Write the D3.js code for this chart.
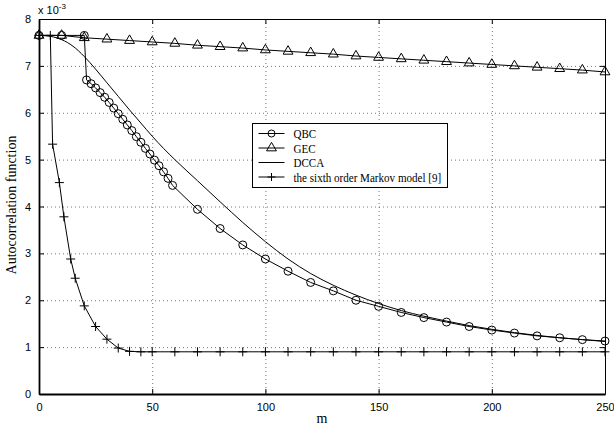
<!DOCTYPE html>
<html>
<head>
<meta charset="utf-8">
<script src="https://cdn.jsdelivr.net/npm/d3@7"></script>
<style>
  body { margin: 0; background: #fff; }
</style>
</head>
<body>
<svg id="chart" width="614" height="429"></svg>
<script>
// values are in units of 10^-3
const xTicks = [0, 50, 100, 150, 200, 250];
const yTicks = [0, 1, 2, 3, 4, 5, 6, 7, 8];

const qbcX = [0, 10, 20, 21, 23, 25, 27, 29, 31, 33, 35, 37, 39, 41, 43, 45, 47, 49, 51, 53, 55, 57, 59,
  70, 80, 90, 100, 110, 120, 130, 140, 150, 160, 170, 180, 190, 200, 210, 220, 230, 240, 250];
const qbcY = [7.65, 7.65, 7.65, 6.70, 6.62, 6.53, 6.43, 6.33, 6.22, 6.10, 5.98, 5.86, 5.74, 5.62, 5.49, 5.37, 5.24, 5.12, 4.99, 4.87, 4.74, 4.60, 4.45,
  3.94, 3.53, 3.18, 2.88, 2.62, 2.38, 2.20, 2.00, 1.87, 1.74, 1.63, 1.535, 1.44, 1.365, 1.30, 1.24, 1.20, 1.16, 1.13];

const gecX = [0, 10, 20, 30, 40, 50, 60, 70, 80, 90, 100, 110, 120, 130, 140, 150, 160, 170, 180, 190, 200, 210, 220, 230, 240, 250];
const gecY = [7.65, 7.65, 7.60, 7.57, 7.54, 7.51, 7.48, 7.44, 7.41, 7.38, 7.34, 7.31, 7.28, 7.25, 7.21, 7.18, 7.15, 7.12, 7.09, 7.06, 7.03, 7.00, 6.97, 6.94, 6.91, 6.87];

const dccaX = [0, 5, 10, 15, 20, 25, 30, 35, 40, 45, 50, 55, 60, 70, 80, 90, 100, 110, 120, 130, 140, 150, 160, 170, 180, 190, 200, 210, 220, 230, 240, 250];
const dccaY = [7.65, 7.63, 7.56, 7.42, 7.20, 6.93, 6.64, 6.35, 6.06, 5.78, 5.50, 5.24, 5.00, 4.55, 4.10, 3.66, 3.25, 2.88, 2.57, 2.32, 2.11, 1.93, 1.78, 1.66, 1.555, 1.46, 1.38, 1.31, 1.25, 1.20, 1.16, 1.12];

const markovX = [0, 5, 6, 9, 11, 14, 16, 20, 25, 30, 35, 40, 45, 50, 60, 70, 80, 90, 100, 110, 120, 130, 140, 150, 160, 170, 180, 190, 200, 210, 220, 230, 240, 250];
const markovY = [7.65, 7.65, 5.33, 4.51, 3.78, 2.88, 2.47, 1.88, 1.44, 1.17, 0.98, 0.91, 0.90, 0.90, 0.90, 0.90, 0.90, 0.90, 0.90, 0.90, 0.90, 0.90, 0.90, 0.90, 0.90, 0.90, 0.90, 0.90, 0.90, 0.90, 0.90, 0.90, 0.90, 0.90];

const legendNames = ['QBC', 'GEC', 'DCCA', 'the sixth order Markov model [9]'];

const plotLeft = 39, plotRight = 605, plotTop = 19, plotBottom = 394;
const svg = d3.select('#chart');

const x = d3.scaleLinear().domain([0, 250]).range([plotLeft, plotRight]);
const y = d3.scaleLinear().domain([0, 8]).range([plotBottom, plotTop]);

// dotted grid
const grid = svg.append('g').attr('stroke', '#777').attr('stroke-dasharray', '1,3').attr('stroke-width', 1);
grid.selectAll('line.gx').data(xTicks.slice(1, -1)).enter().append('line')
  .attr('x1', d => x(d) + 0.5).attr('x2', d => x(d) + 0.5)
  .attr('y1', plotTop).attr('y2', plotBottom);
grid.selectAll('line.gy').data(yTicks.slice(1, -1)).enter().append('line')
  .attr('x1', plotLeft).attr('x2', plotRight)
  .attr('y1', d => y(d) + 0.5).attr('y2', d => y(d) + 0.5);

// axes, ticks inside
const tickFont = g => {
  g.selectAll('.tick text').attr('font-family', 'Liberation Sans, Arial, sans-serif').attr('font-size', 11).attr('fill', '#000');
};
svg.append('g')
  .attr('transform', 'translate(0,' + plotBottom + ')')
  .call(d3.axisBottom(x).tickValues(xTicks).tickSizeInner(-5).tickSizeOuter(0).tickPadding(9))
  .call(g => g.select('.domain').attr('stroke-width', 1.8))
  .call(tickFont);
svg.append('g')
  .attr('transform', 'translate(' + plotLeft + ',0)')
  .call(d3.axisLeft(y).tickValues(yTicks).tickSizeInner(-5).tickSizeOuter(0).tickPadding(8))
  .call(g => g.select('.domain').attr('stroke-width', 1.8))
  .call(tickFont);
svg.append('g')
  .attr('transform', 'translate(0,' + plotTop + ')')
  .call(d3.axisTop(x).tickValues(xTicks).tickSizeInner(-5).tickSizeOuter(0).tickFormat(''));
svg.append('g')
  .attr('transform', 'translate(' + plotRight + ',0)')
  .call(d3.axisRight(y).tickValues(yTicks).tickSizeInner(-5).tickSizeOuter(0).tickFormat(''));

// exponent label
const expo = svg.append('text')
  .attr('x', 38).attr('y', 14)
  .attr('font-family', 'Liberation Sans, Arial, sans-serif').attr('font-size', 11);
expo.append('tspan').text('x 10');
expo.append('tspan').attr('dy', -5).attr('font-size', 8).text('-3');

// axis titles
svg.append('text')
  .attr('transform', 'translate(16,205) rotate(-90)')
  .attr('text-anchor', 'middle')
  .attr('font-family', 'Liberation Serif, Times New Roman, serif').attr('font-size', 14)
  .text('Autocorrelation function');
svg.append('text')
  .attr('x', 322).attr('y', 423)
  .attr('text-anchor', 'middle')
  .attr('font-family', 'Liberation Serif, Times New Roman, serif').attr('font-size', 14)
  .text('m');

const line = d3.line().x(d => x(d[0])).y(d => y(d[1]));
const zip = (a, b) => a.map((v, i) => [v, b[i]]);

const plot = svg.append('g');

// DCCA (plain line)
plot.append('path')
  .datum(zip(dccaX, dccaY))
  .attr('fill', 'none').attr('stroke', '#000').attr('stroke-width', 1)
  .attr('d', d3.line().x(d => x(d[0])).y(d => y(d[1])).curve(d3.curveMonotoneX));

// GEC
plot.append('path').datum(zip(gecX, gecY))
  .attr('fill', 'none').attr('stroke', '#000').attr('stroke-width', 1).attr('d', line);
const tri = d3.symbol().type(d3.symbolTriangle).size(42);
plot.selectAll('path.gec').data(zip(gecX, gecY)).enter().append('path')
  .attr('class', 'gec')
  .attr('transform', d => 'translate(' + x(d[0]) + ',' + y(d[1]) + ')')
  .attr('d', tri()).attr('fill', 'none').attr('stroke', '#000').attr('stroke-width', 1);

// Markov model
plot.append('path').datum(zip(markovX, markovY))
  .attr('fill', 'none').attr('stroke', '#000').attr('stroke-width', 1).attr('d', line);
const plus = 'M-4.5,0H4.5M0,-4.5V4.5';
plot.selectAll('path.mk').data(zip(markovX, markovY)).enter().append('path')
  .attr('class', 'mk')
  .attr('transform', d => 'translate(' + x(d[0]) + ',' + y(d[1]) + ')')
  .attr('d', plus).attr('stroke', '#000').attr('stroke-width', 1);

// QBC
plot.append('path').datum(zip(qbcX, qbcY))
  .attr('fill', 'none').attr('stroke', '#000').attr('stroke-width', 1).attr('d', line);
plot.selectAll('circle.qbc').data(zip(qbcX, qbcY)).enter().append('circle')
  .attr('class', 'qbc')
  .attr('cx', d => x(d[0])).attr('cy', d => y(d[1])).attr('r', 4)
  .attr('fill', 'none').attr('stroke', '#000').attr('stroke-width', 1);

// legend
const lg = svg.append('g').attr('transform', 'translate(252.5,123.5)');
lg.append('rect').attr('width', 195).attr('height', 64)
  .attr('fill', '#fff').attr('stroke', '#000').attr('stroke-width', 1);
const rowY = [10, 24.5, 39, 53.5];
legendNames.forEach((name, i) => {
  const row = lg.append('g').attr('transform', 'translate(0,' + rowY[i] + ')');
  row.append('line').attr('x1', 6).attr('x2', 32).attr('stroke', '#000').attr('stroke-width', 1);
  if (i === 0) row.append('circle').attr('cx', 19).attr('r', 3.5).attr('fill', 'none').attr('stroke', '#000');
  if (i === 1) row.append('path').attr('transform', 'translate(19,0)').attr('d', tri()).attr('fill', 'none').attr('stroke', '#000');
  if (i === 3) row.append('path').attr('transform', 'translate(19,0)').attr('d', 'M-4,0H4M0,-4V4').attr('stroke', '#000');
  row.append('text').attr('transform', 'translate(41,0) scale(0.82,1)').attr('dy', '0.35em')
    .attr('font-family', 'Liberation Serif, Times New Roman, serif').attr('font-size', 13.5)
    .text(name);
});
</script>
</body>
</html>
